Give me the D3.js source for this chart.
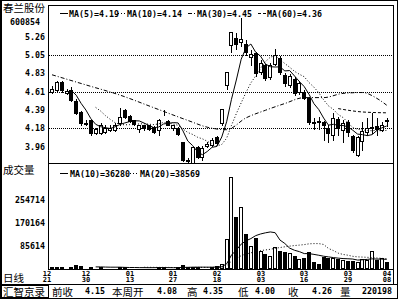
<!DOCTYPE html>
<html>
<head>
<meta charset="utf-8">
<script src="https://cdn.jsdelivr.net/npm/d3@7/dist/d3.min.js"></script>
<style>
body{margin:0;background:#fff;}
svg{display:block;}
.num{font-family:"DejaVu Sans Mono",monospace;font-weight:bold;font-size:8.3px;fill:#000;}
.small{font-family:"DejaVu Sans Mono",monospace;font-weight:bold;font-size:7px;fill:#000;}
.cjk{font-family:"Noto Sans CJK SC",sans-serif;font-size:10.5px;fill:#000;}
</style>
</head>
<body>
<svg id="chart" width="400" height="300"></svg>
<script>
/***************************  Data ***************************/
var opens  = [4.61,4.63,4.72,4.59,4.63,4.50,4.37,4.24,4.27,4.12,
              4.12,4.13,4.16,4.16,4.24,4.39,4.32,4.27,4.17,4.21,
              4.21,4.19,4.16,4.39,4.26,4.18,4.18,4.01,3.80,3.75,
              3.95,3.84,3.97,3.98,4.07,4.24,4.69,5.16,5.24,5.20,
              5.18,5.02,5.07,4.84,4.92,4.78,4.94,5.01,4.81,4.69,
              4.76,4.61,4.61,4.53,4.25,4.26,4.25,4.18,4.10,4.29,
              4.16,4.25,4.09,3.86,4.03,4.13,4.18,4.20,4.16,4.28];
var highs  = [4.68,4.74,4.74,4.64,4.66,4.52,4.38,4.27,4.28,4.18,
              4.24,4.21,4.21,4.24,4.42,4.40,4.33,4.28,4.22,4.22,
              4.22,4.20,4.29,4.39,4.27,4.22,4.19,4.02,3.83,3.96,
              3.97,3.97,4.01,4.06,4.08,4.40,4.84,5.32,5.30,5.48,
              5.22,5.10,5.08,4.98,4.94,4.95,5.11,5.03,4.83,4.82,
              4.78,4.74,4.63,4.55,4.30,4.31,4.26,4.22,4.36,4.31,
              4.27,4.27,4.10,4.09,4.25,4.30,4.36,4.30,4.25,4.30];
var lows   = [4.59,4.61,4.61,4.58,4.50,4.35,4.22,4.21,4.10,4.11,
              4.11,4.12,4.14,4.15,4.22,4.30,4.25,4.22,4.13,4.16,
              4.16,4.12,4.10,4.33,4.21,4.16,4.10,3.79,3.76,3.74,
              3.82,3.80,3.95,3.97,3.99,4.22,4.64,5.08,5.12,5.15,
              5.05,4.92,4.80,4.82,4.75,4.76,4.92,4.82,4.68,4.66,
              4.57,4.58,4.52,4.23,4.17,4.17,4.04,4.02,4.04,4.10,
              4.02,4.08,3.90,3.85,3.92,4.10,4.12,4.10,4.15,4.20];
var closes = [4.64,4.72,4.63,4.62,4.51,4.36,4.24,4.23,4.12,4.17,
              4.22,4.18,4.18,4.22,4.31,4.31,4.26,4.23,4.21,4.18,
              4.17,4.13,4.27,4.39,4.22,4.21,4.11,3.80,3.79,3.95,
              3.84,3.94,3.99,4.04,4.00,4.40,4.84,5.32,5.18,5.23,
              5.08,5.06,4.83,4.95,4.77,4.92,5.04,4.84,4.71,4.79,
              4.60,4.71,4.54,4.25,4.24,4.25,4.21,4.12,4.30,4.18,
              4.24,4.13,3.92,4.07,4.15,4.18,4.19,4.17,4.22,4.26];
var volumes = [8000,10000,9000,6000,9000,14000,11000,6000,9000,6000,
               7000,5000,5000,6000,9000,7000,6000,6000,5000,5000,
               5000,6000,7000,8000,6000,5000,7000,15000,8000,10000,
               7000,6000,6000,7000,12000,18000,110000,338000,192000,229000,
               129000,87000,115000,67000,55000,50000,83000,67000,65000,59000,
               50000,38000,43000,65000,28000,18000,47000,43000,40000,38000,
               34000,31000,32000,28000,38000,34000,66000,34000,40000,28000];

// long averages: [bar index, value]
var ma30Pts = [[0,4.81],[7,4.69],[14,4.57],[21,4.42],[28,4.27],[32,4.19],[36,4.16],
               [40,4.30],[44,4.39],[48,4.47],[52,4.54],[56,4.54],[60,4.59],[64,4.60],
               [67,4.53],[69,4.45]];
var ma60Pts = [[59,4.41],[64,4.37],[69,4.36]];

var priceTicks  = [5.26,5.05,4.83,4.61,4.39,4.18,3.96];
var priceGrid   = [5.05,4.61,4.18];
var volumeTicks = [254714,170164,85614];
var dateTicks   = [[-1,"12","21"],[7,"12","30"],[16,"01","13"],[25,"01","27"],[34,"02","18"],
                   [43,"03","03"],[52,"03","16"],[61,"03","29"],[69,"04","08"]];
var priceLegend  = ["MA(5)=4.19","MA(10)=4.14","MA(30)=4.45","MA(60)=4.36"];
var volumeLegend = ["MA(10)=36280","MA(20)=38569"];
var statusItems  = [["前收","4.15"],["本周开","4.08"],["高","4.35"],["低","4.00"],["收","4.26"],["量","220198"]];

/***************************  Functions ***************************/
function moving_avg(arr,n)
{
    var out=[];
    for(var i=0;i<arr.length;i++)
    {
        if(i<n-1){out.push(null);continue;}
        out.push(d3.mean(arr.slice(i-n+1,i+1)));
    }
    return out;
}

/***************************  Chart ***************************/
var svg = d3.select("#chart");
var L=48, R=393, T=5, MID=163, B=269;

var x  = d3.scaleLinear().domain([0,69]).range([52,386.7]);
var y  = d3.scaleLinear().domain([3.766,5.636]).range([MID,T]);
var yv = d3.scaleLinear().domain([0,389660]).range([B+0.3,MID+0.2]);

var bars = closes.map(function(c,i){
    return {i:i,o:opens[i],h:highs[i],l:lows[i],c:c,v:volumes[i],up:c>=opens[i]};
});
function px(i){ return Math.round(x(i)); }

svg.append("defs").append("clipPath").attr("id","plotclip")
   .append("rect").attr("x",L+1).attr("y",T+1).attr("width",R-L-1).attr("height",MID-T-1);
svg.select("defs").append("clipPath").attr("id","volclip")
   .append("rect").attr("x",L+1).attr("y",MID+1).attr("width",R-L-1).attr("height",B-MID-1);

// frames
var frame = svg.append("g").attr("shape-rendering","crispEdges").attr("stroke","#000").attr("fill","none");
frame.append("rect").attr("x",0.5).attr("y",0.5).attr("width",397).attr("height",298);
frame.append("line").attr("x1",1.5).attr("x2",1.5).attr("y1",0).attr("y2",299);
frame.append("line").attr("x1",0).attr("x2",398).attr("y1",298.5).attr("y2",298.5);
frame.append("rect").attr("x",L+0.5).attr("y",T+0.5).attr("width",R-L).attr("height",B-T);
frame.append("line").attr("x1",L).attr("x2",R).attr("y1",MID+0.5).attr("y2",MID+0.5);
frame.append("line").attr("x1",0).attr("x2",398).attr("y1",284.5).attr("y2",284.5);
frame.append("line").attr("x1",R+0.5).attr("x2",R+0.5).attr("y1",T).attr("y2",284);
frame.append("rect").attr("x",1.5).attr("y",285.5).attr("width",47).attr("height",12);

// grid
svg.append("g").selectAll("line").data(priceGrid).enter().append("line")
   .attr("x1",L+1).attr("x2",R).attr("y1",function(d){return Math.round(y(d))+0.5;})
   .attr("y2",function(d){return Math.round(y(d))+0.5;})
   .attr("stroke","#000").attr("stroke-dasharray","1,1").attr("shape-rendering","crispEdges");

// axis labels
svg.append("g").selectAll("text").data(priceTicks).enter().append("text")
   .attr("class","num").attr("text-anchor","end").attr("x",45)
   .attr("y",function(d){return y(d)+3;}).text(function(d){return d.toFixed(2);});
svg.append("g").selectAll("text").data(volumeTicks).enter().append("text")
   .attr("class","num").attr("text-anchor","end").attr("x",45)
   .attr("y",function(d){return yv(d)+3;}).text(function(d){return d;});

var dt = svg.append("g").selectAll("g").data(dateTicks).enter().append("g")
   .attr("transform",function(d){return "translate("+Math.max(47,px(d[0]))+",0)";});
dt.append("text").attr("class","small").attr("text-anchor","middle").attr("y",275.5).text(function(d){return d[1];});
dt.append("text").attr("class","small").attr("text-anchor","middle").attr("y",282).text(function(d){return d[2];});

// candles
var cg = svg.append("g").attr("clip-path","url(#plotclip)").attr("shape-rendering","crispEdges");
var candle = cg.selectAll("g").data(bars).enter().append("g");
candle.append("line")
   .attr("x1",function(d){return px(d.i)+0.5;}).attr("x2",function(d){return px(d.i)+0.5;})
   .attr("y1",function(d){return Math.round(y(d.h));}).attr("y2",function(d){return Math.round(y(d.l))+1;})
   .attr("stroke","#000");
candle.append("rect")
   .attr("x",function(d){return px(d.i)-1.5;}).attr("width",3)
   .attr("y",function(d){return Math.round(y(Math.max(d.o,d.c)))+0.5;})
   .attr("height",function(d){return Math.max(0,Math.round(y(Math.min(d.o,d.c)))-Math.round(y(Math.max(d.o,d.c))));})
   .attr("fill",function(d){return d.up?"#fff":"#000";}).attr("stroke","#000");

// volume bars
var vg = svg.append("g").attr("clip-path","url(#volclip)").attr("shape-rendering","crispEdges");
vg.selectAll("rect").data(bars).enter().append("rect")
   .attr("x",function(d){return px(d.i)-1.5;}).attr("width",3)
   .attr("y",function(d){return Math.min(Math.round(yv(d.v)),B-1)+0.5;})
   .attr("height",function(d){return Math.max(0,B-1-Math.round(yv(d.v)));})
   .attr("fill",function(d){return d.up?"#fff":"#000";}).attr("stroke","#000");

// average lines
var ma5 = moving_avg(closes,5), ma10 = moving_avg(closes,10);
var vma10 = moving_avg(volumes,10), vma20 = moving_avg(volumes,20);
var line = d3.line().defined(function(d){return d[1]!==null;})
             .x(function(d){return x(d[0]);}).y(function(d){return y(d[1]);});
var vline = d3.line().defined(function(d){return d[1]!==null;})
             .x(function(d){return x(d[0]);}).y(function(d){return yv(d[1]);});
function idx(arr){ return arr.map(function(v,i){return [i,v];}); }

var priceLines = [
    {pts:idx(ma5), dash:null},
    {pts:idx(ma10), dash:"1,2"},
    {pts:ma30Pts, dash:"4,2,1,2", curve:true},
    {pts:ma60Pts, dash:"3,2", curve:true}
];
var lg = svg.append("g").attr("clip-path","url(#plotclip)");
priceLines.forEach(function(p){
    lg.append("path").datum(p.pts)
      .attr("d",p.curve ? line.curve(d3.curveMonotoneX)(p.pts) : line.curve(d3.curveLinear)(p.pts))
      .attr("fill","none").attr("stroke","#000").attr("stroke-width",1)
      .attr("stroke-dasharray",p.dash);
});
var vlg = svg.append("g").attr("clip-path","url(#volclip)");
vlg.append("path").attr("d",vline(idx(vma10))).attr("fill","none").attr("stroke","#000");
vlg.append("path").attr("d",vline(idx(vma20))).attr("fill","none").attr("stroke","#000").attr("stroke-dasharray","1,2");

// legends
var legX = [60,118,188,258], legDash=[null,"1,2","4,2,1,2","3,2"];
priceLegend.forEach(function(t,k){
    svg.append("line").attr("x1",legX[k]).attr("x2",legX[k]+8).attr("y1",13.5).attr("y2",13.5)
       .attr("stroke","#000").attr("stroke-dasharray",legDash[k]).attr("shape-rendering","crispEdges");
    svg.append("text").attr("class","num").attr("x",legX[k]+9).attr("y",17).text(t);
});
var vlegX = [60,130];
volumeLegend.forEach(function(t,k){
    svg.append("line").attr("x1",vlegX[k]).attr("x2",vlegX[k]+8).attr("y1",173.5).attr("y2",173.5)
       .attr("stroke","#000").attr("stroke-dasharray",k?"1,2":null).attr("shape-rendering","crispEdges");
    svg.append("text").attr("class","num").attr("x",vlegX[k]+10).attr("y",177).text(t);
});

// names
svg.append("text").attr("class","cjk").attr("x",3).attr("y",12).text("春兰股份");
svg.append("text").attr("class","num").attr("x",10).attr("y",25).text("600854");
svg.append("text").attr("class","cjk").attr("x",3).attr("y",174).text("成交量");
svg.append("text").attr("class","cjk").attr("x",3).attr("y",282).text("日线");
svg.append("text").attr("class","cjk").attr("x",3).attr("y",295.5).text("汇智京录");

// status bar
var stX = [[52,85],[112,157],[187,203],[238,255],[288,312],[340,362]];
statusItems.forEach(function(s,k){
    svg.append("text").attr("class","cjk").attr("x",stX[k][0]).attr("y",295.5).text(s[0]);
    svg.append("text").attr("class","num").attr("x",stX[k][1]).attr("y",294).text(s[1]);
});
</script>
</body>
</html>
